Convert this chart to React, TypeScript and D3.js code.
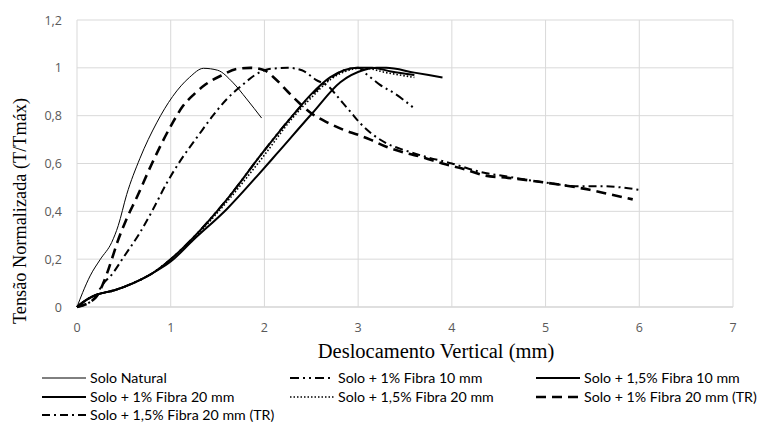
import React from "react";
import * as d3 from "d3";

type P = [number, number];

const xTicks = [0, 1, 2, 3, 4, 5, 6, 7];
const yTicks = [0, 0.2, 0.4, 0.6, 0.8, 1, 1.2];

const soloNatural: P[] = [
  [0, 0], [0.06, 0.06], [0.14, 0.13], [0.25, 0.2], [0.37, 0.27], [0.44, 0.34],
  [0.53, 0.47], [0.67, 0.62], [0.85, 0.77], [1.02, 0.88], [1.2, 0.96],
  [1.35, 0.998], [1.5, 0.99], [1.66, 0.94], [1.81, 0.87], [1.97, 0.79],
];

const fibra1_10: P[] = [
  [0, 0], [0.1, 0.03], [0.2, 0.05], [0.4, 0.07], [0.6, 0.1], [0.8, 0.14],
  [1.0, 0.2], [1.24, 0.29], [1.6, 0.45], [1.97, 0.64], [2.3, 0.8],
  [2.5, 0.885], [2.7, 0.955], [2.85, 0.99], [3.0, 1.0], [3.1, 0.97],
  [3.23, 0.93], [3.4, 0.89], [3.6, 0.83],
];

const fibra15_10: P[] = [
  [0, 0], [0.1, 0.03], [0.2, 0.05], [0.4, 0.07], [0.6, 0.1], [0.8, 0.14],
  [1.0, 0.19], [1.24, 0.28], [1.6, 0.41], [1.95, 0.56], [2.13, 0.64],
  [2.51, 0.81], [2.81, 0.94], [3.05, 0.99], [3.2, 1.0], [3.3, 1.0],
  [3.6, 0.98], [3.9, 0.96],
];

const fibra1_20: P[] = [
  [0, 0], [0.1, 0.03], [0.2, 0.05], [0.4, 0.07], [0.6, 0.1], [0.8, 0.14],
  [1.0, 0.2], [1.24, 0.29], [1.6, 0.45], [1.97, 0.64], [2.3, 0.8],
  [2.5, 0.89], [2.7, 0.96], [2.85, 0.99], [3.0, 1.0], [3.15, 1.0],
  [3.35, 0.985], [3.6, 0.97],
];

const fibra15_20: P[] = [
  [0, 0], [0.1, 0.03], [0.2, 0.05], [0.4, 0.07], [0.6, 0.1], [0.8, 0.14],
  [1.0, 0.2], [1.24, 0.285], [1.6, 0.44], [1.97, 0.62], [2.3, 0.79],
  [2.5, 0.875], [2.7, 0.95], [2.9, 0.99], [3.05, 1.0], [3.3, 0.98],
  [3.6, 0.96],
];

const fibra1_20TR: P[] = [
  [0, 0], [0.2, 0.04], [0.27, 0.09], [0.32, 0.14], [0.38, 0.21], [0.43, 0.27],
  [0.52, 0.36], [0.64, 0.46], [0.8, 0.6], [1.02, 0.77], [1.13, 0.84],
  [1.25, 0.89], [1.37, 0.93], [1.55, 0.97], [1.7, 0.995], [1.85, 1.0],
  [2.0, 0.99], [2.1, 0.96], [2.25, 0.9], [2.38, 0.85], [2.5, 0.81],
  [2.68, 0.77], [2.85, 0.74], [3.0, 0.72], [3.13, 0.7], [3.3, 0.67],
  [3.5, 0.645], [3.7, 0.625], [3.9, 0.6], [4.1, 0.58], [4.35, 0.55],
  [4.6, 0.54], [5.0, 0.52], [5.47, 0.49], [5.7, 0.47], [5.93, 0.45],
];

const fibra15_20TR: P[] = [
  [0, 0], [0.2, 0.04], [0.25, 0.08], [0.38, 0.14], [0.5, 0.21],
  [0.67, 0.31], [0.8, 0.4], [0.96, 0.52], [1.1, 0.61], [1.3, 0.72],
  [1.45, 0.8], [1.6, 0.87], [1.77, 0.93], [1.9, 0.97], [2.05, 0.995],
  [2.25, 1.0], [2.4, 0.99], [2.55, 0.95], [2.69, 0.92], [2.8, 0.87],
  [2.91, 0.82], [3.03, 0.765], [3.16, 0.72], [3.3, 0.685], [3.5, 0.655],
  [3.75, 0.625], [4.0, 0.6], [4.3, 0.565], [4.6, 0.545], [5.0, 0.52],
  [5.34, 0.505], [5.6, 0.505], [6.0, 0.49],
];

const seriesNames = [
  "Solo Natural",
  "Solo + 1% Fibra 10 mm",
  "Solo + 1,5%  Fibra 10 mm",
  "Solo + 1% Fibra 20 mm",
  "Solo + 1,5% Fibra 20 mm",
  "Solo + 1%  Fibra 20 mm (TR)",
  "Solo + 1,5% Fibra 20 mm (TR)",
];

const styles = [
  { w: 1, dash: "" },
  { w: 2, dash: "9,4,2,4,2,4" },
  { w: 2, dash: "" },
  { w: 2, dash: "" },
  { w: 1.6, dash: "1.5,2" },
  { w: 2.6, dash: "10,6" },
  { w: 2, dash: "8,4,2,4" },
];

const data = [soloNatural, fibra1_10, fibra15_10, fibra1_20, fibra15_20, fibra1_20TR, fibra15_20TR];

const legendPos: [number, number][] = [
  [42, 378], [290, 378], [536, 378],
  [42, 397], [290, 397], [536, 397],
  [42, 415],
];

export default function App() {
  const W = 764, H = 422;
  const x = d3.scaleLinear().domain([0, 7]).range([77, 733]);
  const y = d3.scaleLinear().domain([0, 1.2]).range([307, 20]);
  const line = d3.line<P>().x(d => x(d[0])).y(d => y(d[1])).curve(d3.curveMonotoneX);
  const fmt = (v: number) => (v === 0 ? "0" : String(Math.round(v * 10) / 10).replace(".", ","));
  const tickFont = "Open Sans, Liberation Sans, sans-serif";

  return (
    <svg width={W} height={H} style={{ position: "absolute", left: 0, top: 0, background: "#fff" }}>
      {yTicks.map(t => (
        <line key={"gy" + t} x1={x(0)} x2={x(7)} y1={y(t)} y2={y(t)} stroke={t === 0 ? "#bfbfbf" : "#d9d9d9"} strokeWidth={1} />
      ))}
      {xTicks.map(t => (
        <line key={"gx" + t} x1={x(t)} x2={x(t)} y1={y(0)} y2={y(1.2)} stroke="#d9d9d9" strokeWidth={1} />
      ))}
      {yTicks.map(t => (
        <text key={"ty" + t} x={62} y={y(t) + 4.5} textAnchor="end" fontSize={12.5} fill="#595959" fontFamily={tickFont}>{fmt(t)}</text>
      ))}
      {xTicks.map(t => (
        <text key={"tx" + t} x={x(t)} y={332} textAnchor="middle" fontSize={12.5} fill="#595959" fontFamily={tickFont}>{t}</text>
      ))}
      <text x={436} y={358} textAnchor="middle" fontSize={20.5} fontFamily="Liberation Serif, serif" fill="#000">Deslocamento Vertical (mm)</text>
      <text transform="translate(26,211) rotate(-90)" textAnchor="middle" fontSize={18.3} fontFamily="Liberation Serif, serif" fill="#000">Tensão Normalizada (T/Tmáx)</text>
      {data.map((d, i) => (
        <path key={"s" + i} d={line(d) || ""} fill="none" stroke="#000" strokeWidth={styles[i].w} strokeDasharray={styles[i].dash} strokeLinejoin="round" />
      ))}
      {seriesNames.map((n, i) => {
        const [lx, ly] = legendPos[i];
        return (
          <g key={"l" + i}>
            <line x1={lx} x2={lx + 44} y1={ly} y2={ly} stroke="#000" strokeWidth={styles[i].w} strokeDasharray={styles[i].dash} />
            <text x={lx + 48} y={ly + 5} fontSize={14.2} fontFamily="Lato, Liberation Sans, sans-serif" fill="#000">{n}</text>
          </g>
        );
      })}
    </svg>
  );
}
